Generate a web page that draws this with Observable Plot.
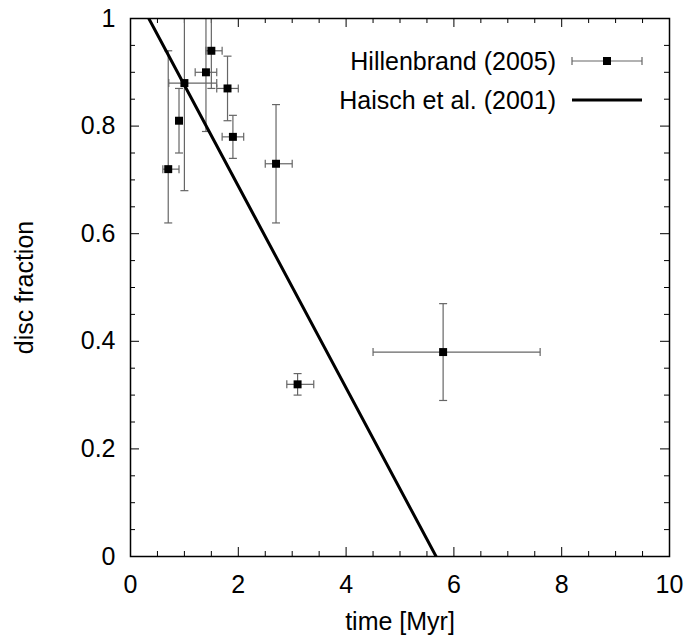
<!DOCTYPE html>
<html><head><meta charset="utf-8">
<script src="https://cdn.jsdelivr.net/npm/d3@7"></script>
<script src="https://cdn.jsdelivr.net/npm/@observablehq/plot@0.6"></script>
<style>body{margin:0;background:#fff}</style>
</head><body><div id="chart"></div>
<script>
// Hillenbrand (2005) data
const time   = [0.7, 0.9, 1.0, 1.4, 1.5, 1.8, 1.9, 2.7, 3.1, 5.8];
const frac   = [0.72, 0.81, 0.88, 0.90, 0.94, 0.87, 0.78, 0.73, 0.32, 0.38];
const timeLo = [0.6, 0.9, 0.71, 1.2, 1.4, 1.6, 1.7, 2.5, 2.9, 4.5];
const timeHi = [0.9, 0.9, 1.6, 1.6, 1.7, 2.0, 2.1, 3.0, 3.4, 7.6];
const fracLo = [0.62, 0.75, 0.68, 0.79, 0.87, 0.81, 0.74, 0.62, 0.30, 0.29];
const fracHi = [0.94, 0.87, 1.0, 1.0, 1.0, 0.93, 0.82, 0.84, 0.34, 0.47];
// Haisch et al. (2001) linear relation
const haischT = [0.34, 5.67];
const haischF = [1.0, 0.0];
// ticks
const xMajor = [0, 2, 4, 6, 8, 10];
const xMinor = d3.range(0, 10.01, 0.5).filter(v => Math.abs(v / 2 - Math.round(v / 2)) > 1e-6);
const yMajor = [0, 0.2, 0.4, 0.6, 0.8, 1];
const yMinor = d3.range(0, 1.001, 0.05).filter(v => Math.abs(v / 0.2 - Math.round(v / 0.2)) > 1e-6);
const labels = {hill: "Hillenbrand (2005)", haisch: "Haisch et al. (2001)", x: "time [Myr]", y: "disc fraction"};

const rows = time.map((t, i) => ({t, f: frac[i], tLo: timeLo[i], tHi: timeHi[i], fLo: fracLo[i], fHi: fracHi[i]}));
const haisch = haischT.map((t, i) => ({t, f: haischF[i]}));

const W = 686, H = 636, mL = 130, mR = 17, mT = 18, mB = 80;
const iW = W - mL - mR, iH = H - mT - mB;
const maj = 9, mnr = 5;
const errColor = "#666";
const capLen = 4;
const hCap = {draw(ctx, size) { const h = Math.sqrt(size / Math.PI); ctx.moveTo(-h, 0); ctx.lineTo(h, 0); }};
const vCap = {draw(ctx, size) { const h = Math.sqrt(size / Math.PI); ctx.moveTo(0, -h); ctx.lineTo(0, h); }};
const hx = rows.filter(d => d.tHi > d.tLo);

const chart = Plot.plot({
  width: W, height: H,
  marginLeft: mL, marginRight: mR, marginTop: mT, marginBottom: mB,
  style: {fontFamily: "'Liberation Sans', Arial, sans-serif", fontSize: "25px", color: "black", background: "white"},
  x: {domain: [0, 10]},
  y: {domain: [0, 1]},
  marks: [
    Plot.axisX({ticks: xMajor, tickSize: 0, tickPadding: 19, tickFormat: d3.format("~g"),
      label: labels.x, labelAnchor: "center", labelOffset: 73, labelArrow: "none"}),
    Plot.axisY({ticks: yMajor, tickSize: 0, tickPadding: 15, tickFormat: d3.format("~g"),
      label: labels.y, labelAnchor: "center", labelOffset: 115, labelArrow: "none"}),
    // inward ticks on all four sides
    Plot.tickX(xMajor, {x: d => d, insetTop: iH - maj, stroke: "black"}),
    Plot.tickX(xMajor, {x: d => d, insetBottom: iH - maj, stroke: "black"}),
    Plot.tickX(xMinor, {x: d => d, insetTop: iH - mnr, stroke: "black"}),
    Plot.tickX(xMinor, {x: d => d, insetBottom: iH - mnr, stroke: "black"}),
    Plot.tickY(yMajor, {y: d => d, insetRight: iW - maj, stroke: "black"}),
    Plot.tickY(yMajor, {y: d => d, insetLeft: iW - maj, stroke: "black"}),
    Plot.tickY(yMinor, {y: d => d, insetRight: iW - mnr, stroke: "black"}),
    Plot.tickY(yMinor, {y: d => d, insetLeft: iW - mnr, stroke: "black"}),
    // error bars
    Plot.link(rows, {x1: "t", x2: "t", y1: "fLo", y2: "fHi", stroke: errColor, strokeWidth: 1.2, clip: true}),
    Plot.link(hx, {x1: "tLo", x2: "tHi", y1: "f", y2: "f", stroke: errColor, strokeWidth: 1.2}),
    Plot.dot(rows, {x: "t", y: "fLo", symbol: hCap, r: capLen, stroke: errColor, strokeWidth: 1.2, fill: "none"}),
    Plot.dot(rows.filter(d => d.fHi < 1), {x: "t", y: "fHi", symbol: hCap, r: capLen, stroke: errColor, strokeWidth: 1.2, fill: "none"}),
    Plot.dot(hx, {x: "tLo", y: "f", symbol: vCap, r: capLen, stroke: errColor, strokeWidth: 1.2, fill: "none"}),
    Plot.dot(hx, {x: "tHi", y: "f", symbol: vCap, r: capLen, stroke: errColor, strokeWidth: 1.2, fill: "none"}),
    // Haisch line
    Plot.line(haisch, {x: "t", y: "f", stroke: "black", strokeWidth: 3, clip: true}),
    // data squares
    Plot.dot(rows, {x: "t", y: "f", symbol: "square", r: 4.5, fill: "black", stroke: "none"}),
    Plot.frame({stroke: "black", strokeWidth: 1.5})
  ]
});

// legend (top-right inside the frame)
const svg = d3.select(chart);
const g = svg.append("g").attr("font-family", "'Liberation Sans', Arial, sans-serif").attr("font-size", 25);
const right = W - mR;
const tx = right - 113, s1 = right - 97, s2 = right - 27, sc = (s1 + s2) / 2;
const r1 = mT + 43, r2 = mT + 82;
g.append("text").attr("x", tx).attr("y", r1).attr("dy", "0.35em").attr("text-anchor", "end").text(labels.hill);
g.append("text").attr("x", tx).attr("y", r2).attr("dy", "0.35em").attr("text-anchor", "end").text(labels.haisch);
g.append("line").attr("x1", s1).attr("x2", s2).attr("y1", r1).attr("y2", r1).attr("stroke", errColor).attr("stroke-width", 1.2);
g.append("line").attr("x1", s1).attr("x2", s1).attr("y1", r1 - 4).attr("y2", r1 + 4).attr("stroke", errColor).attr("stroke-width", 1.2);
g.append("line").attr("x1", s2).attr("x2", s2).attr("y1", r1 - 4).attr("y2", r1 + 4).attr("stroke", errColor).attr("stroke-width", 1.2);
g.append("rect").attr("x", sc - 4).attr("y", r1 - 4).attr("width", 8).attr("height", 8).attr("fill", "black");
g.append("line").attr("x1", s1).attr("x2", s2).attr("y1", r2).attr("y2", r2).attr("stroke", "black").attr("stroke-width", 3);

document.getElementById("chart").appendChild(chart);
</script>
</body></html>
